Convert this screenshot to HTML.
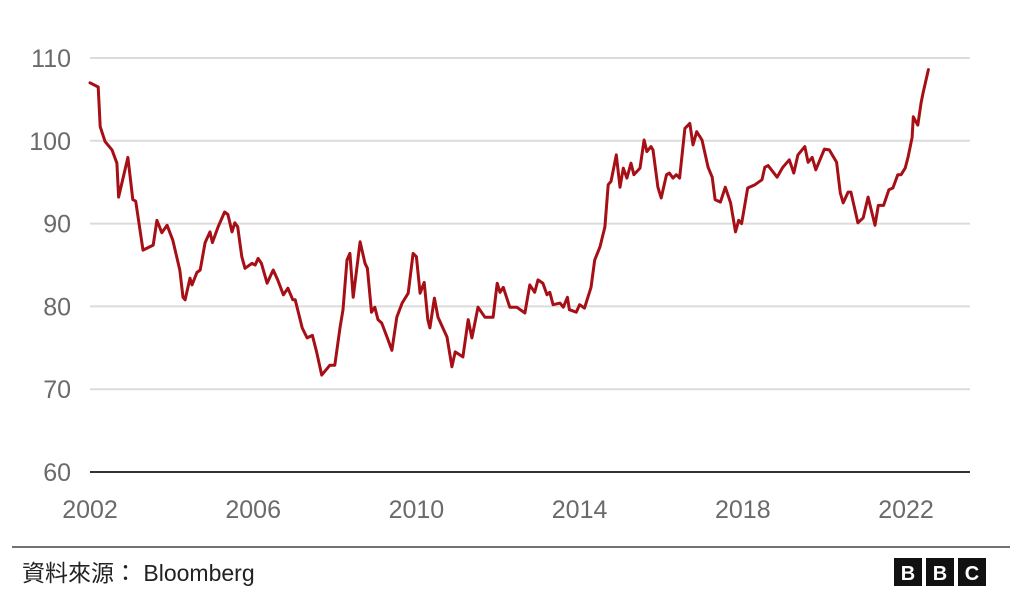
<!DOCTYPE html>
<html><head><meta charset="utf-8"><style>
body{margin:0;background:#fff;width:1024px;height:610px;overflow:hidden;font-family:"Liberation Sans","Noto Sans CJK TC",sans-serif}
</style></head><body>
<svg id="chart" width="1024" height="610" xmlns="http://www.w3.org/2000/svg"></svg>
<script>
const xTickLabels=["2002","2006","2010","2014","2018","2022"];
const xTickYears=[2002,2006,2010,2014,2018,2022];
const yTickLabels=["60","70","80","90","100","110"];
const yTickValues=[60,70,80,90,100,110];
const times=[2002.0,2002.2,2002.25,2002.37,2002.54,2002.66,2002.7,2002.93,2003.05,2003.12,2003.3,2003.55,2003.64,2003.76,2003.89,2004.03,2004.2,2004.28,2004.33,2004.45,2004.5,2004.62,2004.7,2004.82,2004.94,2005.0,2005.14,2005.3,2005.38,2005.48,2005.55,2005.62,2005.72,2005.8,2005.97,2006.05,2006.12,2006.2,2006.34,2006.49,2006.6,2006.74,2006.85,2006.97,2007.03,2007.2,2007.32,2007.45,2007.56,2007.68,2007.88,2008.0,2008.13,2008.2,2008.3,2008.37,2008.45,2008.62,2008.74,2008.8,2008.9,2008.98,2009.06,2009.15,2009.28,2009.4,2009.52,2009.65,2009.8,2009.92,2010.0,2010.09,2010.19,2010.28,2010.33,2010.44,2010.53,2010.75,2010.87,2010.95,2011.14,2011.27,2011.36,2011.51,2011.68,2011.88,2011.98,2012.05,2012.13,2012.29,2012.46,2012.66,2012.78,2012.9,2012.98,2013.1,2013.2,2013.27,2013.35,2013.52,2013.6,2013.7,2013.75,2013.92,2014.0,2014.12,2014.28,2014.37,2014.5,2014.62,2014.7,2014.77,2014.9,2014.99,2015.07,2015.16,2015.26,2015.33,2015.48,2015.58,2015.65,2015.75,2015.8,2015.92,2016.0,2016.13,2016.2,2016.29,2016.37,2016.45,2016.58,2016.7,2016.78,2016.87,2017.0,2017.15,2017.25,2017.32,2017.45,2017.57,2017.7,2017.82,2017.9,2017.97,2018.12,2018.3,2018.47,2018.54,2018.62,2018.84,2018.98,2019.14,2019.25,2019.35,2019.52,2019.6,2019.7,2019.79,2020.0,2020.12,2020.3,2020.39,2020.46,2020.58,2020.65,2020.82,2020.95,2021.07,2021.24,2021.32,2021.45,2021.58,2021.68,2021.8,2021.88,2021.98,2022.05,2022.15,2022.18,2022.29,2022.37,2022.42,2022.55];
const values=[107,106.5,101.7,99.9,98.9,97.3,93.2,98.0,92.9,92.7,86.8,87.4,90.4,88.9,89.8,88,84.4,81.1,80.8,83.4,82.6,84.1,84.4,87.7,89,87.7,89.6,91.4,91.1,89,90.1,89.6,86,84.6,85.2,85.0,85.8,85.2,82.8,84.4,83.2,81.4,82.2,80.8,80.8,77.4,76.2,76.5,74.4,71.7,72.9,72.9,77.5,79.6,85.6,86.4,81.1,87.8,85.2,84.6,79.3,79.9,78.4,78,76.3,74.7,78.7,80.4,81.6,86.4,86.0,81.6,82.9,78.4,77.4,81,78.7,76.3,72.7,74.5,73.9,78.4,76.2,79.9,78.7,78.7,82.8,81.7,82.3,79.9,79.9,79.2,82.6,81.7,83.2,82.8,81.4,81.7,80.2,80.4,79.9,81.1,79.6,79.3,80.2,79.8,82.3,85.6,87.2,89.6,94.7,95.1,98.3,94.4,96.7,95.5,97.3,95.9,96.7,100.1,98.7,99.3,98.9,94.4,93.1,95.9,96.1,95.5,95.9,95.5,101.5,102.1,99.5,101.1,100.1,96.8,95.6,92.9,92.6,94.4,92.5,89,90.4,90,94.3,94.7,95.3,96.8,97,95.6,96.8,97.7,96.1,98.3,99.3,97.4,98,96.5,99,98.9,97.4,93.7,92.5,93.8,93.8,90.1,90.7,93.2,89.8,92.2,92.2,94.1,94.3,95.9,95.9,96.7,98,100.4,102.9,101.9,104.6,105.8,108.6];

const NS="http://www.w3.org/2000/svg";
const svg=document.getElementById('chart');
const xScale=t=>90+(t-2002)*40.8;
const yScale=v=>472-(v-60)*8.28;
function mk(tag,attrs){const e=document.createElementNS(NS,tag);for(const k in attrs)e.setAttribute(k,attrs[k]);svg.appendChild(e);return e;}

yTickValues.forEach((v,i)=>{
  if(v!==60){const g=mk('line',{x1:90,x2:970,y1:yScale(v),y2:yScale(v),stroke:'#dcdcdc','stroke-width':2});
  
  }
  const t=mk('text',{x:71,y:yScale(v)+9,'text-anchor':'end','font-size':25,fill:'#6a6a6a'});
  t.textContent=yTickLabels[i];
  
  
});
const base=mk('line',{x1:90,x2:970,y1:yScale(60),y2:yScale(60),stroke:'#333','stroke-width':2});


xTickYears.forEach((yr,i)=>{
  const t=mk('text',{x:xScale(yr),y:518,'text-anchor':'middle','font-size':25,fill:'#6a6a6a'});
  t.textContent=xTickLabels[i];
  
  
});
const d=times.map((t,i)=>(i?'L':'M')+xScale(t).toFixed(1)+' '+yScale(values[i]).toFixed(1)).join(' ');
const p=mk('path',{d:d,fill:'none',stroke:'#a50f15','stroke-width':3,'stroke-linejoin':'round','stroke-linecap':'round'});



const sep=mk('line',{x1:12,x2:1010,y1:547,y2:547,stroke:'#444','stroke-width':1.5});


const src=mk('text',{x:22,y:581,'font-size':23,fill:'#222'});
src.textContent='資料來源： Bloomberg';


['B','B','C'].forEach((c,i)=>{
  const r=mk('rect',{x:894+i*32,y:558,width:28,height:28,fill:'#111'});
  
  
  const t=mk('text',{x:908+i*32,y:580,'text-anchor':'middle','font-size':20,'font-weight':'bold',fill:'#fff'});
  t.textContent=c;
  
  
});
</script>
</body></html>
